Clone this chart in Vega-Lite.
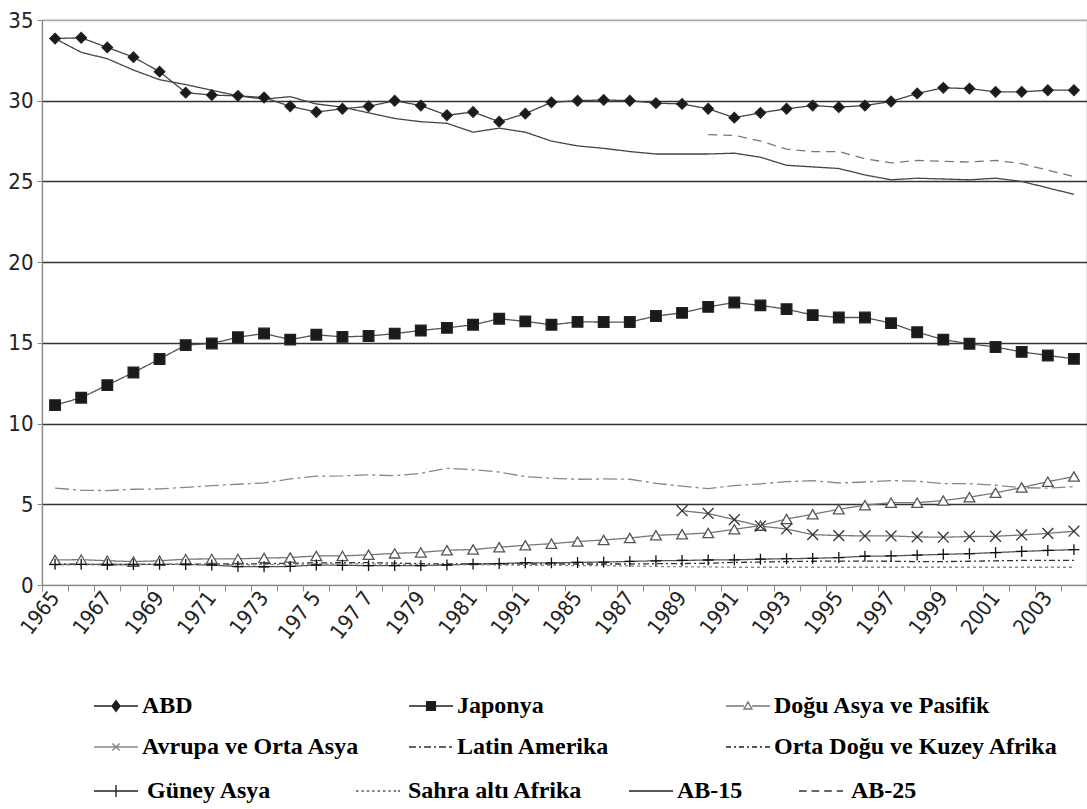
{
  "$schema": "https://vega.github.io/schema/vega-lite/v6.json",
  "autosize": {"type": "none"},
  "width": 1045,
  "height": 565,
  "padding": {"left": 42, "top": 20, "right": 0, "bottom": 224},
  "background": "white",
  "config": {
    "view": {"stroke": "#a0a0a0", "strokeWidth": 1.2},
    "axis": {"labelFont": "Liberation Sans Narrow, DejaVu Sans Condensed, sans-serif", "labelColor": "#222", "title": null},
    "legend": {"title": null, "orient": "none", "direction": "vertical", "rowPadding": 8, "symbolSize": 1600, "symbolStrokeWidth": 1.4, "labelFont": "Liberation Serif", "labelFontWeight": "bold", "labelFontSize": 24, "labelColor": "#000", "labelLimit": 500}
  },
  "datasets": {
    "d": [
      {"year":1965,"series":"ABD","value":33.85},{"year":1966,"series":"ABD","value":33.9},{"year":1967,"series":"ABD","value":33.3},{"year":1968,"series":"ABD","value":32.7},{"year":1969,"series":"ABD","value":31.8},{"year":1970,"series":"ABD","value":30.5},{"year":1971,"series":"ABD","value":30.35},{"year":1972,"series":"ABD","value":30.3},{"year":1973,"series":"ABD","value":30.2},{"year":1974,"series":"ABD","value":29.65},{"year":1975,"series":"ABD","value":29.3},{"year":1976,"series":"ABD","value":29.5},{"year":1977,"series":"ABD","value":29.65},{"year":1978,"series":"ABD","value":30.0},{"year":1979,"series":"ABD","value":29.7},{"year":1980,"series":"ABD","value":29.1},{"year":1981,"series":"ABD","value":29.3},{"year":1982,"series":"ABD","value":28.7},{"year":1983,"series":"ABD","value":29.2},{"year":1984,"series":"ABD","value":29.9},{"year":1985,"series":"ABD","value":30.0},{"year":1986,"series":"ABD","value":30.05},{"year":1987,"series":"ABD","value":30.0},{"year":1988,"series":"ABD","value":29.85},{"year":1989,"series":"ABD","value":29.8},{"year":1990,"series":"ABD","value":29.5},{"year":1991,"series":"ABD","value":28.95},{"year":1992,"series":"ABD","value":29.25},{"year":1993,"series":"ABD","value":29.5},{"year":1994,"series":"ABD","value":29.7},{"year":1995,"series":"ABD","value":29.6},{"year":1996,"series":"ABD","value":29.7},{"year":1997,"series":"ABD","value":29.95},{"year":1998,"series":"ABD","value":30.45},{"year":1999,"series":"ABD","value":30.8},{"year":2000,"series":"ABD","value":30.75},{"year":2001,"series":"ABD","value":30.55},{"year":2002,"series":"ABD","value":30.55},{"year":2003,"series":"ABD","value":30.65},{"year":2004,"series":"ABD","value":30.65},
      {"year":1965,"series":"AB-15","value":33.85},{"year":1966,"series":"AB-15","value":33.0},{"year":1967,"series":"AB-15","value":32.6},{"year":1968,"series":"AB-15","value":31.9},{"year":1969,"series":"AB-15","value":31.3},{"year":1970,"series":"AB-15","value":31.0},{"year":1971,"series":"AB-15","value":30.65},{"year":1972,"series":"AB-15","value":30.3},{"year":1973,"series":"AB-15","value":30.1},{"year":1974,"series":"AB-15","value":30.25},{"year":1975,"series":"AB-15","value":29.8},{"year":1976,"series":"AB-15","value":29.6},{"year":1977,"series":"AB-15","value":29.25},{"year":1978,"series":"AB-15","value":28.9},{"year":1979,"series":"AB-15","value":28.7},{"year":1980,"series":"AB-15","value":28.6},{"year":1981,"series":"AB-15","value":28.05},{"year":1982,"series":"AB-15","value":28.3},{"year":1983,"series":"AB-15","value":28.05},{"year":1984,"series":"AB-15","value":27.5},{"year":1985,"series":"AB-15","value":27.2},{"year":1986,"series":"AB-15","value":27.05},{"year":1987,"series":"AB-15","value":26.85},{"year":1988,"series":"AB-15","value":26.7},{"year":1989,"series":"AB-15","value":26.7},{"year":1990,"series":"AB-15","value":26.7},{"year":1991,"series":"AB-15","value":26.75},{"year":1992,"series":"AB-15","value":26.5},{"year":1993,"series":"AB-15","value":26.0},{"year":1994,"series":"AB-15","value":25.9},{"year":1995,"series":"AB-15","value":25.8},{"year":1996,"series":"AB-15","value":25.4},{"year":1997,"series":"AB-15","value":25.1},{"year":1998,"series":"AB-15","value":25.2},{"year":1999,"series":"AB-15","value":25.15},{"year":2000,"series":"AB-15","value":25.1},{"year":2001,"series":"AB-15","value":25.2},{"year":2002,"series":"AB-15","value":25.0},{"year":2003,"series":"AB-15","value":24.6},{"year":2004,"series":"AB-15","value":24.2},
      {"year":1990,"series":"AB-25","value":27.9},{"year":1991,"series":"AB-25","value":27.85},{"year":1992,"series":"AB-25","value":27.5},{"year":1993,"series":"AB-25","value":27.0},{"year":1994,"series":"AB-25","value":26.85},{"year":1995,"series":"AB-25","value":26.85},{"year":1996,"series":"AB-25","value":26.4},{"year":1997,"series":"AB-25","value":26.15},{"year":1998,"series":"AB-25","value":26.3},{"year":1999,"series":"AB-25","value":26.25},{"year":2000,"series":"AB-25","value":26.2},{"year":2001,"series":"AB-25","value":26.3},{"year":2002,"series":"AB-25","value":26.1},{"year":2003,"series":"AB-25","value":25.7},{"year":2004,"series":"AB-25","value":25.3},
      {"year":1965,"series":"Japonya","value":11.14},{"year":1966,"series":"Japonya","value":11.6},{"year":1967,"series":"Japonya","value":12.38},{"year":1968,"series":"Japonya","value":13.16},{"year":1969,"series":"Japonya","value":14.0},{"year":1970,"series":"Japonya","value":14.86},{"year":1971,"series":"Japonya","value":14.96},{"year":1972,"series":"Japonya","value":15.35},{"year":1973,"series":"Japonya","value":15.58},{"year":1974,"series":"Japonya","value":15.2},{"year":1975,"series":"Japonya","value":15.5},{"year":1976,"series":"Japonya","value":15.37},{"year":1977,"series":"Japonya","value":15.42},{"year":1978,"series":"Japonya","value":15.57},{"year":1979,"series":"Japonya","value":15.77},{"year":1980,"series":"Japonya","value":15.93},{"year":1981,"series":"Japonya","value":16.12},{"year":1982,"series":"Japonya","value":16.49},{"year":1983,"series":"Japonya","value":16.33},{"year":1984,"series":"Japonya","value":16.12},{"year":1985,"series":"Japonya","value":16.3},{"year":1986,"series":"Japonya","value":16.29},{"year":1987,"series":"Japonya","value":16.29},{"year":1988,"series":"Japonya","value":16.66},{"year":1989,"series":"Japonya","value":16.86},{"year":1990,"series":"Japonya","value":17.23},{"year":1991,"series":"Japonya","value":17.5},{"year":1992,"series":"Japonya","value":17.32},{"year":1993,"series":"Japonya","value":17.09},{"year":1994,"series":"Japonya","value":16.72},{"year":1995,"series":"Japonya","value":16.57},{"year":1996,"series":"Japonya","value":16.57},{"year":1997,"series":"Japonya","value":16.22},{"year":1998,"series":"Japonya","value":15.66},{"year":1999,"series":"Japonya","value":15.2},{"year":2000,"series":"Japonya","value":14.94},{"year":2001,"series":"Japonya","value":14.74},{"year":2002,"series":"Japonya","value":14.44},{"year":2003,"series":"Japonya","value":14.22},{"year":2004,"series":"Japonya","value":14.01},
      {"year":1965,"series":"Latin Amerika","value":6.0},{"year":1966,"series":"Latin Amerika","value":5.87},{"year":1967,"series":"Latin Amerika","value":5.85},{"year":1968,"series":"Latin Amerika","value":5.93},{"year":1969,"series":"Latin Amerika","value":5.95},{"year":1970,"series":"Latin Amerika","value":6.05},{"year":1971,"series":"Latin Amerika","value":6.15},{"year":1972,"series":"Latin Amerika","value":6.24},{"year":1973,"series":"Latin Amerika","value":6.32},{"year":1974,"series":"Latin Amerika","value":6.57},{"year":1975,"series":"Latin Amerika","value":6.74},{"year":1976,"series":"Latin Amerika","value":6.76},{"year":1977,"series":"Latin Amerika","value":6.82},{"year":1978,"series":"Latin Amerika","value":6.77},{"year":1979,"series":"Latin Amerika","value":6.92},{"year":1980,"series":"Latin Amerika","value":7.23},{"year":1981,"series":"Latin Amerika","value":7.14},{"year":1982,"series":"Latin Amerika","value":7.0},{"year":1983,"series":"Latin Amerika","value":6.71},{"year":1984,"series":"Latin Amerika","value":6.61},{"year":1985,"series":"Latin Amerika","value":6.55},{"year":1986,"series":"Latin Amerika","value":6.57},{"year":1987,"series":"Latin Amerika","value":6.55},{"year":1988,"series":"Latin Amerika","value":6.3},{"year":1989,"series":"Latin Amerika","value":6.12},{"year":1990,"series":"Latin Amerika","value":5.97},{"year":1991,"series":"Latin Amerika","value":6.16},{"year":1992,"series":"Latin Amerika","value":6.27},{"year":1993,"series":"Latin Amerika","value":6.4},{"year":1994,"series":"Latin Amerika","value":6.46},{"year":1995,"series":"Latin Amerika","value":6.32},{"year":1996,"series":"Latin Amerika","value":6.38},{"year":1997,"series":"Latin Amerika","value":6.47},{"year":1998,"series":"Latin Amerika","value":6.43},{"year":1999,"series":"Latin Amerika","value":6.28},{"year":2000,"series":"Latin Amerika","value":6.28},{"year":2001,"series":"Latin Amerika","value":6.18},{"year":2002,"series":"Latin Amerika","value":6.03},{"year":2003,"series":"Latin Amerika","value":6.0},{"year":2004,"series":"Latin Amerika","value":6.1},
      {"year":1965,"series":"Doğu Asya ve Pasifik","value":1.55},{"year":1966,"series":"Doğu Asya ve Pasifik","value":1.57},{"year":1967,"series":"Doğu Asya ve Pasifik","value":1.5},{"year":1968,"series":"Doğu Asya ve Pasifik","value":1.45},{"year":1969,"series":"Doğu Asya ve Pasifik","value":1.5},{"year":1970,"series":"Doğu Asya ve Pasifik","value":1.6},{"year":1971,"series":"Doğu Asya ve Pasifik","value":1.62},{"year":1972,"series":"Doğu Asya ve Pasifik","value":1.62},{"year":1973,"series":"Doğu Asya ve Pasifik","value":1.67},{"year":1974,"series":"Doğu Asya ve Pasifik","value":1.7},{"year":1975,"series":"Doğu Asya ve Pasifik","value":1.8},{"year":1976,"series":"Doğu Asya ve Pasifik","value":1.8},{"year":1977,"series":"Doğu Asya ve Pasifik","value":1.87},{"year":1978,"series":"Doğu Asya ve Pasifik","value":1.96},{"year":1979,"series":"Doğu Asya ve Pasifik","value":2.02},{"year":1980,"series":"Doğu Asya ve Pasifik","value":2.15},{"year":1981,"series":"Doğu Asya ve Pasifik","value":2.2},{"year":1982,"series":"Doğu Asya ve Pasifik","value":2.34},{"year":1983,"series":"Doğu Asya ve Pasifik","value":2.46},{"year":1984,"series":"Doğu Asya ve Pasifik","value":2.56},{"year":1985,"series":"Doğu Asya ve Pasifik","value":2.69},{"year":1986,"series":"Doğu Asya ve Pasifik","value":2.79},{"year":1987,"series":"Doğu Asya ve Pasifik","value":2.91},{"year":1988,"series":"Doğu Asya ve Pasifik","value":3.08},{"year":1989,"series":"Doğu Asya ve Pasifik","value":3.14},{"year":1990,"series":"Doğu Asya ve Pasifik","value":3.22},{"year":1991,"series":"Doğu Asya ve Pasifik","value":3.45},{"year":1992,"series":"Doğu Asya ve Pasifik","value":3.68},{"year":1993,"series":"Doğu Asya ve Pasifik","value":4.09},{"year":1994,"series":"Doğu Asya ve Pasifik","value":4.38},{"year":1995,"series":"Doğu Asya ve Pasifik","value":4.69},{"year":1996,"series":"Doğu Asya ve Pasifik","value":4.94},{"year":1997,"series":"Doğu Asya ve Pasifik","value":5.1},{"year":1998,"series":"Doğu Asya ve Pasifik","value":5.1},{"year":1999,"series":"Doğu Asya ve Pasifik","value":5.23},{"year":2000,"series":"Doğu Asya ve Pasifik","value":5.44},{"year":2001,"series":"Doğu Asya ve Pasifik","value":5.71},{"year":2002,"series":"Doğu Asya ve Pasifik","value":6.04},{"year":2003,"series":"Doğu Asya ve Pasifik","value":6.4},{"year":2004,"series":"Doğu Asya ve Pasifik","value":6.72},
      {"year":1989,"series":"Avrupa ve Orta Asya","value":4.6},{"year":1990,"series":"Avrupa ve Orta Asya","value":4.43},{"year":1991,"series":"Avrupa ve Orta Asya","value":4.05},{"year":1992,"series":"Avrupa ve Orta Asya","value":3.65},{"year":1993,"series":"Avrupa ve Orta Asya","value":3.47},{"year":1994,"series":"Avrupa ve Orta Asya","value":3.12},{"year":1995,"series":"Avrupa ve Orta Asya","value":3.06},{"year":1996,"series":"Avrupa ve Orta Asya","value":3.04},{"year":1997,"series":"Avrupa ve Orta Asya","value":3.04},{"year":1998,"series":"Avrupa ve Orta Asya","value":2.98},{"year":1999,"series":"Avrupa ve Orta Asya","value":2.96},{"year":2000,"series":"Avrupa ve Orta Asya","value":3.0},{"year":2001,"series":"Avrupa ve Orta Asya","value":3.02},{"year":2002,"series":"Avrupa ve Orta Asya","value":3.1},{"year":2003,"series":"Avrupa ve Orta Asya","value":3.2},{"year":2004,"series":"Avrupa ve Orta Asya","value":3.33},
      {"year":1965,"series":"Güney Asya","value":1.28},{"year":1966,"series":"Güney Asya","value":1.28},{"year":1967,"series":"Güney Asya","value":1.27},{"year":1968,"series":"Güney Asya","value":1.27},{"year":1969,"series":"Güney Asya","value":1.28},{"year":1970,"series":"Güney Asya","value":1.27},{"year":1971,"series":"Güney Asya","value":1.24},{"year":1972,"series":"Güney Asya","value":1.14},{"year":1973,"series":"Güney Asya","value":1.13},{"year":1974,"series":"Güney Asya","value":1.15},{"year":1975,"series":"Güney Asya","value":1.24},{"year":1976,"series":"Güney Asya","value":1.22},{"year":1977,"series":"Güney Asya","value":1.2},{"year":1978,"series":"Güney Asya","value":1.2},{"year":1979,"series":"Güney Asya","value":1.2},{"year":1980,"series":"Güney Asya","value":1.24},{"year":1981,"series":"Güney Asya","value":1.3},{"year":1982,"series":"Güney Asya","value":1.33},{"year":1983,"series":"Güney Asya","value":1.38},{"year":1984,"series":"Güney Asya","value":1.37},{"year":1985,"series":"Güney Asya","value":1.4},{"year":1986,"series":"Güney Asya","value":1.42},{"year":1987,"series":"Güney Asya","value":1.46},{"year":1988,"series":"Güney Asya","value":1.5},{"year":1989,"series":"Güney Asya","value":1.52},{"year":1990,"series":"Güney Asya","value":1.55},{"year":1991,"series":"Güney Asya","value":1.56},{"year":1992,"series":"Güney Asya","value":1.6},{"year":1993,"series":"Güney Asya","value":1.63},{"year":1994,"series":"Güney Asya","value":1.65},{"year":1995,"series":"Güney Asya","value":1.7},{"year":1996,"series":"Güney Asya","value":1.78},{"year":1997,"series":"Güney Asya","value":1.8},{"year":1998,"series":"Güney Asya","value":1.85},{"year":1999,"series":"Güney Asya","value":1.9},{"year":2000,"series":"Güney Asya","value":1.94},{"year":2001,"series":"Güney Asya","value":2.01},{"year":2002,"series":"Güney Asya","value":2.08},{"year":2003,"series":"Güney Asya","value":2.14},{"year":2004,"series":"Güney Asya","value":2.19},
      {"year":1965,"series":"Orta Doğu ve Kuzey Afrika","value":1.3},{"year":1966,"series":"Orta Doğu ve Kuzey Afrika","value":1.28},{"year":1967,"series":"Orta Doğu ve Kuzey Afrika","value":1.27},{"year":1968,"series":"Orta Doğu ve Kuzey Afrika","value":1.27},{"year":1969,"series":"Orta Doğu ve Kuzey Afrika","value":1.28},{"year":1970,"series":"Orta Doğu ve Kuzey Afrika","value":1.28},{"year":1971,"series":"Orta Doğu ve Kuzey Afrika","value":1.3},{"year":1972,"series":"Orta Doğu ve Kuzey Afrika","value":1.3},{"year":1973,"series":"Orta Doğu ve Kuzey Afrika","value":1.32},{"year":1974,"series":"Orta Doğu ve Kuzey Afrika","value":1.35},{"year":1975,"series":"Orta Doğu ve Kuzey Afrika","value":1.37},{"year":1976,"series":"Orta Doğu ve Kuzey Afrika","value":1.38},{"year":1977,"series":"Orta Doğu ve Kuzey Afrika","value":1.38},{"year":1978,"series":"Orta Doğu ve Kuzey Afrika","value":1.36},{"year":1979,"series":"Orta Doğu ve Kuzey Afrika","value":1.32},{"year":1980,"series":"Orta Doğu ve Kuzey Afrika","value":1.3},{"year":1981,"series":"Orta Doğu ve Kuzey Afrika","value":1.3},{"year":1982,"series":"Orta Doğu ve Kuzey Afrika","value":1.3},{"year":1983,"series":"Orta Doğu ve Kuzey Afrika","value":1.3},{"year":1984,"series":"Orta Doğu ve Kuzey Afrika","value":1.3},{"year":1985,"series":"Orta Doğu ve Kuzey Afrika","value":1.3},{"year":1986,"series":"Orta Doğu ve Kuzey Afrika","value":1.3},{"year":1987,"series":"Orta Doğu ve Kuzey Afrika","value":1.3},{"year":1988,"series":"Orta Doğu ve Kuzey Afrika","value":1.32},{"year":1989,"series":"Orta Doğu ve Kuzey Afrika","value":1.33},{"year":1990,"series":"Orta Doğu ve Kuzey Afrika","value":1.35},{"year":1991,"series":"Orta Doğu ve Kuzey Afrika","value":1.4},{"year":1992,"series":"Orta Doğu ve Kuzey Afrika","value":1.42},{"year":1993,"series":"Orta Doğu ve Kuzey Afrika","value":1.45},{"year":1994,"series":"Orta Doğu ve Kuzey Afrika","value":1.47},{"year":1995,"series":"Orta Doğu ve Kuzey Afrika","value":1.48},{"year":1996,"series":"Orta Doğu ve Kuzey Afrika","value":1.48},{"year":1997,"series":"Orta Doğu ve Kuzey Afrika","value":1.47},{"year":1998,"series":"Orta Doğu ve Kuzey Afrika","value":1.45},{"year":1999,"series":"Orta Doğu ve Kuzey Afrika","value":1.45},{"year":2000,"series":"Orta Doğu ve Kuzey Afrika","value":1.47},{"year":2001,"series":"Orta Doğu ve Kuzey Afrika","value":1.5},{"year":2002,"series":"Orta Doğu ve Kuzey Afrika","value":1.52},{"year":2003,"series":"Orta Doğu ve Kuzey Afrika","value":1.52},{"year":2004,"series":"Orta Doğu ve Kuzey Afrika","value":1.52},
      {"year":1965,"series":"Sahra altı Afrika","value":1.25},{"year":1966,"series":"Sahra altı Afrika","value":1.25},{"year":1967,"series":"Sahra altı Afrika","value":1.25},{"year":1968,"series":"Sahra altı Afrika","value":1.25},{"year":1969,"series":"Sahra altı Afrika","value":1.27},{"year":1970,"series":"Sahra altı Afrika","value":1.28},{"year":1971,"series":"Sahra altı Afrika","value":1.27},{"year":1972,"series":"Sahra altı Afrika","value":1.25},{"year":1973,"series":"Sahra altı Afrika","value":1.26},{"year":1974,"series":"Sahra altı Afrika","value":1.28},{"year":1975,"series":"Sahra altı Afrika","value":1.3},{"year":1976,"series":"Sahra altı Afrika","value":1.32},{"year":1977,"series":"Sahra altı Afrika","value":1.3},{"year":1978,"series":"Sahra altı Afrika","value":1.28},{"year":1979,"series":"Sahra altı Afrika","value":1.27},{"year":1980,"series":"Sahra altı Afrika","value":1.26},{"year":1981,"series":"Sahra altı Afrika","value":1.25},{"year":1982,"series":"Sahra altı Afrika","value":1.24},{"year":1983,"series":"Sahra altı Afrika","value":1.22},{"year":1984,"series":"Sahra altı Afrika","value":1.22},{"year":1985,"series":"Sahra altı Afrika","value":1.2},{"year":1986,"series":"Sahra altı Afrika","value":1.2},{"year":1987,"series":"Sahra altı Afrika","value":1.18},{"year":1988,"series":"Sahra altı Afrika","value":1.15},{"year":1989,"series":"Sahra altı Afrika","value":1.13},{"year":1990,"series":"Sahra altı Afrika","value":1.12},{"year":1991,"series":"Sahra altı Afrika","value":1.1},{"year":1992,"series":"Sahra altı Afrika","value":1.1},{"year":1993,"series":"Sahra altı Afrika","value":1.1},{"year":1994,"series":"Sahra altı Afrika","value":1.1},{"year":1995,"series":"Sahra altı Afrika","value":1.1},{"year":1996,"series":"Sahra altı Afrika","value":1.1},{"year":1997,"series":"Sahra altı Afrika","value":1.1},{"year":1998,"series":"Sahra altı Afrika","value":1.1},{"year":1999,"series":"Sahra altı Afrika","value":1.1},{"year":2000,"series":"Sahra altı Afrika","value":1.1},{"year":2001,"series":"Sahra altı Afrika","value":1.1},{"year":2002,"series":"Sahra altı Afrika","value":1.1},{"year":2003,"series":"Sahra altı Afrika","value":1.1},{"year":2004,"series":"Sahra altı Afrika","value":1.1}
    ]
  },
  "data": {"name": "d"},
  "encoding": {
    "x": {
      "field": "year", "type": "ordinal", "bandPosition": 0.5,
      "scale": {"type": "band", "paddingInner": 0, "paddingOuter": 0},
      "axis": {
        "labelAngle": -52, "labelFontSize": 21, "labelPadding": 3,
        "tickBand": "extent", "tickSize": 6, "tickColor": "#888", "domainColor": "#888", "domainWidth": 1.2,
        "labelExpr": "datum.value % 2 == 0 ? '' : datum.value == 1975 ? '197 5' : datum.value == 1977 ? '197 7' : datum.value == 1983 ? '1991' : datum.label",
        "grid": false, "labelOverlap": false
      }
    },
    "y": {
      "field": "value", "type": "quantitative",
      "scale": {"domain": [0, 35], "nice": false},
      "axis": {
        "values": [0, 5, 10, 15, 20, 25, 30, 35], "labelFontSize": 22, "labelPadding": 4,
        "tickSize": 5, "tickColor": "#888", "domainColor": "#888", "domainWidth": 1.2,
        "grid": true, "gridWidth": 1.3,
        "gridColor": {"condition": {"test": "datum.value == 35 || datum.value == 0", "value": "#aaaaaa"}, "value": "#333333"}
      }
    }
  },
  "layer": [
    {
      "mark": {"type": "line", "strokeWidth": 1.3},
      "encoding": {
        "stroke": {
          "field": "series", "type": "nominal", "legend": null,
          "scale": {
            "domain": ["ABD", "Japonya", "Doğu Asya ve Pasifik", "Avrupa ve Orta Asya", "Latin Amerika", "Orta Doğu ve Kuzey Afrika", "Güney Asya", "Sahra altı Afrika", "AB-15", "AB-25"],
            "range": ["#444444", "#555555", "#777777", "#777777", "#888888", "#333333", "#555555", "#888888", "#444444", "#777777"]
          }
        },
        "strokeDash": {
          "field": "series", "type": "nominal", "legend": null,
          "scale": {
            "domain": ["ABD", "Japonya", "Doğu Asya ve Pasifik", "Avrupa ve Orta Asya", "Latin Amerika", "Orta Doğu ve Kuzey Afrika", "Güney Asya", "Sahra altı Afrika", "AB-15", "AB-25"],
            "range": [[1, 0], [1, 0], [1, 0], [1, 0], [14, 4, 3, 4], [6, 3, 2, 3], [1, 0], [3, 3], [1, 0], [9, 6]]
          }
        }
      }
    },
    {
      "transform": [{"filter": {"field": "series", "oneOf": ["ABD", "Japonya", "Doğu Asya ve Pasifik", "Avrupa ve Orta Asya", "Güney Asya"]}}],
      "mark": {"type": "point", "filled": true, "opacity": 1, "strokeWidth": 1.3},
      "encoding": {
        "shape": {
          "field": "series", "type": "nominal", "legend": null,
          "scale": {
            "domain": ["ABD", "Japonya", "Doğu Asya ve Pasifik", "Avrupa ve Orta Asya", "Güney Asya"],
            "range": ["diamond", "square", "triangle-up", "M-1,-1L1,1M-1,1L1,-1", "M-1,0L1,0M0,-1L0,1"]
          }
        },
        "fill": {
          "field": "series", "type": "nominal", "legend": null,
          "scale": {
            "domain": ["ABD", "Japonya", "Doğu Asya ve Pasifik", "Avrupa ve Orta Asya", "Güney Asya"],
            "range": ["#1a1a1a", "#1a1a1a", "#ffffff", "transparent", "transparent"]
          }
        },
        "stroke": {
          "field": "series", "type": "nominal", "legend": null,
          "scale": {
            "domain": ["ABD", "Japonya", "Doğu Asya ve Pasifik", "Avrupa ve Orta Asya", "Güney Asya"],
            "range": ["#222222", "#222222", "#555555", "#333333", "#111111"]
          }
        },
        "size": {
          "field": "series", "type": "nominal", "legend": null,
          "scale": {
            "domain": ["ABD", "Japonya", "Doğu Asya ve Pasifik", "Avrupa ve Orta Asya", "Güney Asya"],
            "range": [110, 120, 80, 70, 110]
          }
        }
      }
    },
    {
      "transform": [{"filter": "false"}],
      "mark": {"type": "point", "filled": true, "opacity": 1, "strokeWidth": 1.4, "size": 1600},
      "encoding": {
        "shape": {"field": "l1", "type": "nominal",
          "scale": {"domain": ["ABD", "Avrupa ve Orta Asya"], "range": ["M-1.1,0L1.1,0M0,-0.27L0.2,0L0,0.27L-0.2,0Z", "M-1.1,0L1.1,0M-0.18,-0.18L0.18,0.18M-0.18,0.18L0.18,-0.18"]},
          "legend": {"legendX": 53, "legendY": 665, "labelOffset": 5}},
        "fill": {"field": "l1", "type": "nominal",
          "scale": {"domain": ["ABD", "Avrupa ve Orta Asya"], "range": ["#1a1a1a", "transparent"]},
          "legend": {"legendX": 53, "legendY": 665, "labelOffset": 5}},
        "stroke": {"field": "l1", "type": "nominal",
          "scale": {"domain": ["ABD", "Avrupa ve Orta Asya"], "range": ["#222222", "#888888"]},
          "legend": {"legendX": 53, "legendY": 665, "labelOffset": 5}}
      }
    },
    {
      "transform": [{"filter": "false"}],
      "mark": {"type": "point", "filled": true, "opacity": 1, "strokeWidth": 1.4, "size": 1600},
      "encoding": {
        "shape": {"field": "l2", "type": "nominal",
          "scale": {"domain": ["Japonya", "Latin Amerika"], "range": ["M-1.1,0L1.1,0M-0.22,-0.22L0.22,-0.22L0.22,0.22L-0.22,0.22Z", "M-1.1,0L-0.75,0M-0.6,0L-0.5,0M-0.35,0L0,0M0.15,0L0.25,0M0.4,0L0.75,0M0.9,0L1.05,0"]},
          "legend": {"legendX": 368, "legendY": 665, "labelOffset": 5}},
        "fill": {"field": "l2", "type": "nominal",
          "scale": {"domain": ["Japonya", "Latin Amerika"], "range": ["#1a1a1a", "transparent"]},
          "legend": {"legendX": 368, "legendY": 665, "labelOffset": 5}},
        "stroke": {"field": "l2", "type": "nominal",
          "scale": {"domain": ["Japonya", "Latin Amerika"], "range": ["#222222", "#333333"]},
          "legend": {"legendX": 368, "legendY": 665, "labelOffset": 5}}
      }
    },
    {
      "transform": [{"filter": "false"}],
      "mark": {"type": "point", "filled": true, "opacity": 1, "strokeWidth": 1.4, "size": 1600},
      "encoding": {
        "shape": {"field": "l3", "type": "nominal",
          "scale": {"domain": ["Doğu Asya ve Pasifik", "Orta Doğu ve Kuzey Afrika"], "range": ["M-1.1,0L-0.2,0M0.2,0L1.1,0M0,-0.2L0.2,0.15L-0.2,0.15Z", "M-1.1,0L-0.85,0M-0.7,0L-0.6,0M-0.45,0L-0.2,0M-0.05,0L0.05,0M0.2,0L0.45,0M0.6,0L0.7,0M0.85,0L1.1,0"]},
          "legend": {"legendX": 685, "legendY": 665, "labelOffset": 5}},
        "fill": {"field": "l3", "type": "nominal",
          "scale": {"domain": ["Doğu Asya ve Pasifik", "Orta Doğu ve Kuzey Afrika"], "range": ["#ffffff", "transparent"]},
          "legend": {"legendX": 685, "legendY": 665, "labelOffset": 5}},
        "stroke": {"field": "l3", "type": "nominal",
          "scale": {"domain": ["Doğu Asya ve Pasifik", "Orta Doğu ve Kuzey Afrika"], "range": ["#777777", "#222222"]},
          "legend": {"legendX": 685, "legendY": 665, "labelOffset": 5}}
      }
    },
    {
      "transform": [{"filter": "false"}],
      "mark": {"type": "point", "filled": false, "opacity": 1, "strokeWidth": 1.4, "size": 1600},
      "encoding": {
        "shape": {"field": "l4", "type": "nominal",
          "scale": {"domain": ["Güney Asya"], "range": ["M-1.1,0L1.1,0M0,-0.3L0,0.3"]},
          "legend": {"legendX": 53, "legendY": 750, "labelOffset": 10}},
        "stroke": {"field": "l4", "type": "nominal",
          "scale": {"domain": ["Güney Asya"], "range": ["#222222"]},
          "legend": {"legendX": 53, "legendY": 750, "labelOffset": 10}}
      }
    },
    {
      "transform": [{"filter": "false"}],
      "mark": {"type": "point", "filled": false, "opacity": 1, "strokeWidth": 1.4, "size": 1600},
      "encoding": {
        "shape": {"field": "l5", "type": "nominal",
          "scale": {"domain": ["Sahra altı Afrika"], "range": ["M-1.1,0L-0.98,0M-0.83,0L-0.71,0M-0.56,0L-0.44,0M-0.29,0L-0.17,0M-0.02,0L0.1,0M0.25,0L0.37,0M0.52,0L0.64,0M0.79,0L0.91,0M1.0,0L1.1,0"]},
          "legend": {"legendX": 315, "legendY": 750, "labelOffset": 9}},
        "stroke": {"field": "l5", "type": "nominal",
          "scale": {"domain": ["Sahra altı Afrika"], "range": ["#555555"]},
          "legend": {"legendX": 315, "legendY": 750, "labelOffset": 9}}
      }
    },
    {
      "transform": [{"filter": "false"}],
      "mark": {"type": "point", "filled": false, "opacity": 1, "strokeWidth": 1.4, "size": 1600},
      "encoding": {
        "shape": {"field": "l6", "type": "nominal",
          "scale": {"domain": ["AB-15"], "range": ["M-1.1,0L1.1,0"]},
          "legend": {"legendX": 588, "legendY": 750, "labelOffset": 5}},
        "stroke": {"field": "l6", "type": "nominal",
          "scale": {"domain": ["AB-15"], "range": ["#222222"]},
          "legend": {"legendX": 588, "legendY": 750, "labelOffset": 5}}
      }
    },
    {
      "transform": [{"filter": "false"}],
      "mark": {"type": "point", "filled": false, "opacity": 1, "strokeWidth": 1.4, "size": 1600},
      "encoding": {
        "shape": {"field": "l7", "type": "nominal",
          "scale": {"domain": ["AB-25"], "range": ["M-1.1,0L-0.72,0M-0.47,0L-0.09,0M0.16,0L0.54,0M0.79,0L1.1,0"]},
          "legend": {"legendX": 758, "legendY": 750, "labelOffset": 9}},
        "stroke": {"field": "l7", "type": "nominal",
          "scale": {"domain": ["AB-25"], "range": ["#333333"]},
          "legend": {"legendX": 758, "legendY": 750, "labelOffset": 9}}
      }
    }
  ],
  "resolve": {"scale": {"stroke": "independent", "fill": "independent", "shape": "independent", "strokeDash": "independent", "size": "independent"}}
}
